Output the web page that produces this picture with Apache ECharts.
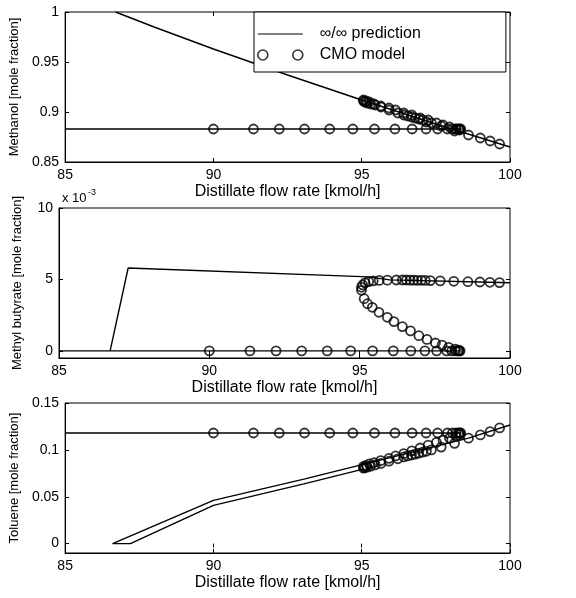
<!DOCTYPE html>
<html>
<head>
<meta charset="utf-8">
<script src="https://cdn.jsdelivr.net/npm/echarts@6/dist/echarts.min.js"></script>
<style>
html, body { margin: 0; background: #fff; }
#chart { width: 576px; height: 598px; }
</style>
</head>
<body>
<div id="chart"></div>
<script>
// tick labels
var flowTicks = [85, 90, 95, 100];
var methanolTicks = [0.85, 0.9, 0.95, 1];
var butyrateTicks = [0, 5, 10];          // x 10^-3
var tolueneTicks = [0, 0.05, 0.1, 0.15];

// CMO model points (one path: feed branch, return branch, upper branch)
var cmoFlow = [
    90.0, 91.35, 92.22, 93.07, 93.92, 94.70, 95.43, 96.12, 96.70, 97.17, 97.56, 97.89, 98.06, 98.18, 98.26, 98.31, 98.34,
    98.3, 98.18, 97.96, 97.74, 97.52, 97.24, 96.97, 96.69, 96.42, 96.14, 95.92, 95.64, 95.42, 95.26, 95.15, 95.06,
    95.06, 95.1, 95.18, 95.3, 95.45, 95.65, 95.92, 96.22, 96.42, 96.55, 96.68, 96.8, 96.92, 97.05, 97.18, 97.35, 97.68, 98.13, 98.6, 99.0, 99.33, 99.65
];
var cmoMethanol = [
    0.883, 0.883, 0.883, 0.883, 0.883, 0.883, 0.883, 0.883, 0.883, 0.883, 0.883, 0.883, 0.883, 0.883, 0.883, 0.883, 0.883,
    0.882, 0.883, 0.885, 0.887, 0.889, 0.892, 0.894, 0.897, 0.899, 0.902, 0.904, 0.906, 0.908, 0.910, 0.911, 0.912,
    0.911, 0.910, 0.909, 0.908, 0.907, 0.905, 0.902, 0.899, 0.897, 0.896, 0.895, 0.894, 0.893, 0.892, 0.890, 0.889, 0.886, 0.881, 0.877, 0.874, 0.871, 0.868
];
var cmoButyrate = [
    0, 0, 0, 0, 0, 0, 0, 0, 0, 0, 0, 0, 0, 0, 0, 0, 0,
    0.05, 0.12, 0.25, 0.4, 0.55, 0.8, 1.06, 1.4, 1.7, 2.05, 2.35, 2.7, 3.05, 3.3, 3.65, 4.24,
    4.45, 4.62, 4.76, 4.85, 4.9, 4.93, 4.95, 4.96, 4.96, 4.96, 4.95, 4.95, 4.94, 4.94, 4.93, 4.92, 4.9, 4.87, 4.84, 4.82, 4.8, 4.78
];
var cmoToluene = [
    0.118, 0.118, 0.118, 0.118, 0.118, 0.118, 0.118, 0.118, 0.118, 0.118, 0.118, 0.118, 0.118, 0.118, 0.118, 0.118, 0.118,
    0.116, 0.1145, 0.1125, 0.1105, 0.108, 0.105, 0.102, 0.099, 0.096, 0.0935, 0.091, 0.0885, 0.0865, 0.085, 0.0835, 0.0825,
    0.0805, 0.081, 0.0815, 0.0825, 0.084, 0.0855, 0.088, 0.0905, 0.0925, 0.0935, 0.0945, 0.0955, 0.0965, 0.0975, 0.0985, 0.100, 0.103, 0.107, 0.1125, 0.116, 0.1195, 0.1234
];

// infinity/infinity prediction curves [flow, fraction]
var predMethanolFeed = [[85, 0.883], [98.35, 0.883]];
var predMethanolTop = [[86.7, 1.0], [88, 0.985], [90, 0.963], [92.5, 0.937], [95, 0.912], [97.5, 0.888], [100, 0.865]];
var predButyrateFeed = [[85, 0], [98.35, 0]];
var predButyrateTop = [[86.7, 0], [87.3, 5.8], [95.3, 5.18], [96, 4.97], [100, 4.77]];
var predTolueneFeed = [[85, 0.118], [98.35, 0.118]];
var predTolueneLoop = [[95.05, 0.0795], [93.05, 0.0637], [90, 0.0408], [87.2, 0], [86.6, 0], [90, 0.0462], [93.05, 0.0688], [95.05, 0.0845], [98.6, 0.1125], [100, 0.1265]];

var font = 'Liberation Sans, Arial, sans-serif';
var predName = '\u221e/\u221e prediction';
var cmoName = 'CMO model';

function pairs(xs, ys) {
    return xs.map(function (x, i) { return [x, ys[i]]; });
}

function mainX(gi) {
    return {
        gridIndex: gi, type: 'value', min: 85, max: 100, interval: 5,
        name: 'Distillate flow rate [kmol/h]', nameLocation: 'middle', nameGap: 22,
        nameTextStyle: { fontSize: 16, color: '#000', fontFamily: font },
        axisLine: { onZero: false, lineStyle: { color: '#000', width: 1 } },
        axisTick: { inside: true, length: 4, lineStyle: { color: '#000' } },
        axisLabel: { fontSize: 14, color: '#000', margin: 6, fontFamily: font, customValues: flowTicks },
        splitLine: { show: false }
    };
}
function mirrorX(gi) {
    return {
        gridIndex: gi, type: 'value', position: 'top', min: 85, max: 100, interval: 5,
        axisLine: { show: false },
        axisTick: { inside: true, length: 4, lineStyle: { color: '#000' } },
        axisLabel: { show: false }, splitLine: { show: false }
    };
}
function mainY(gi, name, min, max, ticks) {
    return {
        gridIndex: gi, type: 'value', min: min, max: max,
        name: name, nameLocation: 'middle', nameGap: 35,
        nameTextStyle: { fontSize: 13, color: '#000', fontFamily: font },
        axisLine: { onZero: false, lineStyle: { color: '#000', width: 1 } },
        axisTick: { inside: true, length: 4, lineStyle: { color: '#000' }, customValues: ticks },
        axisLabel: { fontSize: 14, color: '#000', margin: 6, fontFamily: font, customValues: ticks },
        splitLine: { show: false }
    };
}
function mirrorY(gi, min, max, ticks) {
    return {
        gridIndex: gi, type: 'value', position: 'right', min: min, max: max,
        axisLine: { show: false },
        axisTick: { inside: true, length: 4, lineStyle: { color: '#000' }, customValues: ticks },
        axisLabel: { show: false }, splitLine: { show: false }
    };
}
function predLine(data, gi) {
    return {
        name: predName, type: 'line', xAxisIndex: gi, yAxisIndex: gi,
        data: data, symbol: 'none', showSymbol: false, clip: true, z: 2,
        lineStyle: { color: '#000', width: 1.4 }, itemStyle: { color: '#000' }
    };
}
function cmoScatter(values, gi) {
    return {
        name: cmoName, type: 'scatter', xAxisIndex: gi, yAxisIndex: gi,
        data: pairs(cmoFlow, values), symbol: 'circle', symbolSize: 9, z: 3,
        itemStyle: { color: 'rgba(0,0,0,0)', borderColor: '#000', borderWidth: 1.8 }
    };
}

var chart = echarts.init(document.getElementById('chart'));
chart.setOption({
    backgroundColor: '#fff',
    animation: false,
    grid: [
        { left: 59, top: 12, width: 451, height: 150, show: true, borderColor: '#000', borderWidth: 1 },
        { left: 59, top: 208, width: 451, height: 150, show: true, borderColor: '#000', borderWidth: 1 },
        { left: 59, top: 403, width: 451, height: 150, show: true, borderColor: '#000', borderWidth: 1 }
    ],
    xAxis: [mainX(0), mainX(1), mainX(2), mirrorX(0), mirrorX(1), mirrorX(2)],
    yAxis: [
        mainY(0, 'Methanol [mole fraction]', 0.85, 1, methanolTicks),
        mainY(1, 'Methyl butyrate [mole fraction]', -0.5, 10, butyrateTicks),
        mainY(2, 'Toluene [mole fraction]', -0.01, 0.15, tolueneTicks),
        mirrorY(0, 0.85, 1, methanolTicks),
        mirrorY(1, -0.5, 10, butyrateTicks),
        mirrorY(2, -0.01, 0.15, tolueneTicks)
    ],
    legend: {
        orient: 'vertical', left: 254, top: 12,
        padding: [14, 85, 9, 3], itemGap: 5, itemWidth: 45, itemHeight: 10,
        backgroundColor: '#fff', borderColor: '#000', borderWidth: 1,
        textStyle: { fontSize: 16, color: '#000', fontFamily: font, lineHeight: 16, padding: [0, 0, 0, 12] },
        data: [
            {
                name: predName,
                itemStyle: { color: 'rgba(0,0,0,0)', borderColor: 'rgba(0,0,0,0)', borderWidth: 0, opacity: 0 },
                lineStyle: { color: '#000', width: 1.2 }
            },
            {
                name: cmoName,
                icon: 'path://M0,5A5,5 0 1,1 10,5A5,5 0 1,1 0,5Z M35,5A5,5 0 1,1 45,5A5,5 0 1,1 35,5Z',
                itemStyle: { color: 'rgba(0,0,0,0)', borderColor: '#000', borderWidth: 1.6 }
            }
        ]
    },
    graphic: [
        { type: 'text', left: 62, top: 192, style: { text: 'x 10', fontSize: 13, fontFamily: font, fill: '#000' } },
        { type: 'text', left: 88, top: 188, style: { text: '-3', fontSize: 9, fontFamily: font, fill: '#000' } }
    ],
    series: [
        predLine(predMethanolFeed, 0),
        predLine(predMethanolTop, 0),
        predLine(predButyrateFeed, 1),
        predLine(predButyrateTop, 1),
        predLine(predTolueneFeed, 2),
        predLine(predTolueneLoop, 2),
        cmoScatter(cmoMethanol, 0),
        cmoScatter(cmoButyrate, 1),
        cmoScatter(cmoToluene, 2)
    ]
});
</script>
</body>
</html>
